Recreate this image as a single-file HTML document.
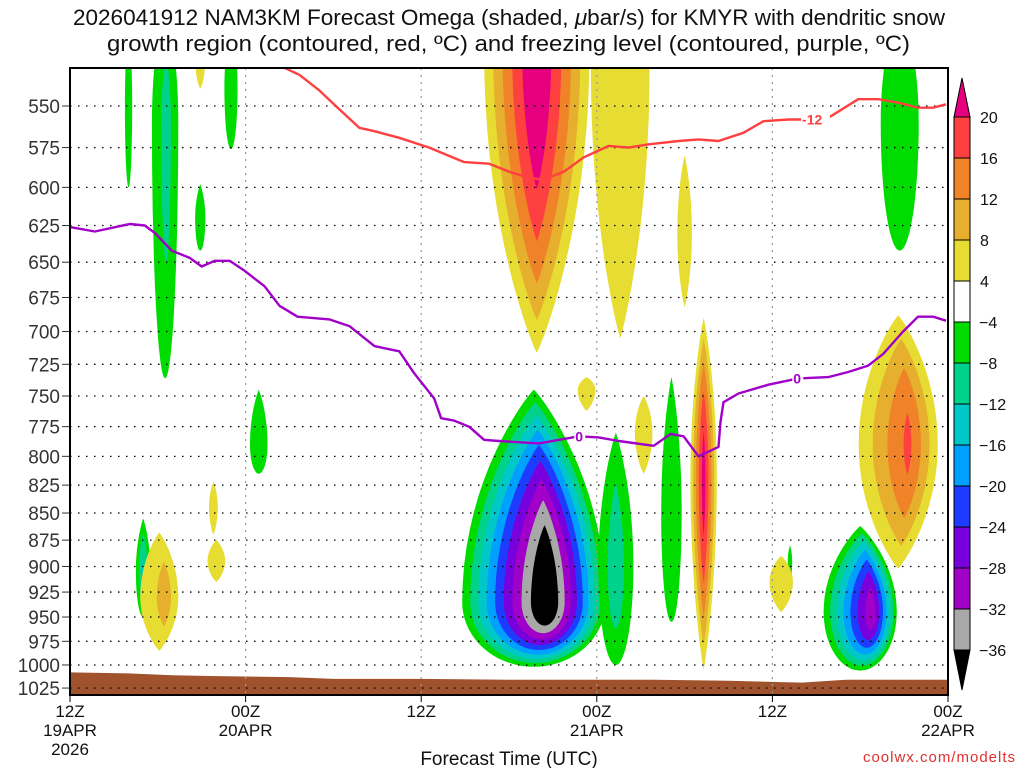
<!DOCTYPE html>
<html><head><meta charset="utf-8"><style>
body{margin:0;background:#fff;}
svg{display:block;font-family:"Liberation Sans",sans-serif;}
</style></head><body>
<svg id="chart" width="1024" height="768" viewBox="0 0 1024 768" xmlns="http://www.w3.org/2000/svg">
<text x="73" y="25" font-size="22" textLength="872" lengthAdjust="spacingAndGlyphs" fill="#111">2026041912 NAM3KM Forecast Omega (shaded, <tspan font-style="italic">μ</tspan>bar/s) for KMYR with dendritic snow</text>
<text x="107" y="51" font-size="22" textLength="803" lengthAdjust="spacingAndGlyphs" fill="#111">growth region (contoured, red, ºC) and freezing level (contoured, purple, ºC)</text>
<defs><clipPath id="pc"><rect x="70" y="68" width="878" height="627"/></clipPath></defs>
<g id="shade" clip-path="url(#pc)"></g>
<g id="grid"></g>
<g id="lines" clip-path="url(#pc)"></g>
<g id="axes"></g>
<g id="cbar"></g>
<text x="509" y="765" font-size="19" text-anchor="middle" fill="#111">Forecast Time (UTC)</text>
<text x="1016" y="762" font-size="15" text-anchor="end" fill="#e03030" letter-spacing="1">coolwx.com/modelts</text>
</svg>
<script>
const pTicks=[550,575,600,625,650,675,700,725,750,775,800,825,850,875,900,925,950,975,1000,1025];
const xTickHours=[0,12,24,36,48,60];
const xTickLabels=[["12Z","19APR","2026"],["00Z","20APR"],["12Z"],["00Z","21APR"],["12Z"],["00Z","22APR"]];
const cbLevels=[20,16,12,8,4,-4,-8,-12,-16,-20,-24,-28,-32,-36];
const posColors=["#e6dc32","#e6af2d","#f08228","#ff4040","#e6007f"];
const negColors=["#00dc00","#00d28c","#00c8c8","#00a0ff","#1e3cff","#7800dc","#a000c8","#a8a8a8","#000000"];
// blobs: hour, pTop, pBot, halfWidth(h), coreHour, coreP, peak
const blobHour=[31.7,54.0,37.3,41.1,5.0,12.9,6.5,4.0,8.9,11.0,56.7,49.2, 31.9,37.6,42.0,43.3,39.2,56.6,48.6,6.1,10.0,9.8,35.3,8.9];
const blobTop=[745,862,780,735,855,745,490,500,598,500,490,880, 490,490,580,690,750,688,890,868,875,822,735,520];
const blobBot=[1002,1006,1000,955,950,815,736,600,642,576,642,915, 716,705,682,1005,815,902,945,985,915,870,762,540];
const blobHalfW=[4.9,2.5,1.2,0.7,0.5,0.6,0.9,0.25,0.35,0.45,1.3,0.15, 3.6,2.0,0.5,0.9,0.6,2.7,0.8,1.3,0.6,0.3,0.6,0.3];
const blobCoreH=[32.6,54.8,37.3,41.1,5.0,12.9,6.6,4.0,8.9,11.0,56.7,49.2, 31.9,37.5,42.0,43.3,39.2,57.3,48.6,6.6,10.0,9.8,35.3,8.9];
const blobCoreP=[935,945,900,850,905,790,560,550,620,540,560,895, 520,530,630,820,780,790,915,930,895,845,745,528];
const blobPeak=[-42,-31,-11,-7,-13,-7,-10,-6,-6,-6,-6,-6, 25,7,7,22,6,17,6,10,6,6,6,5];
// -12 contour
const redH=[14.66,15.68,17.05,18.41,19.77,20.8,22.5,24.55,26.93,28.64,30.0,31.36,32.39,33.75,35.11,36.82,38.18,39.55,41.59,42.95,44.32,46.02,47.39,49.09,50.45,51.82,53.86,55.23,56.59,57.95,58.98,59.86];
const redP=[528,532,541,552,563,565,569,575,584,585,590,594,595,590,581,574,575,573,571,570,571,566,559,558,558,557,546,546,548,551,551,549];
// 0C contour
const purH=[0,1.7,4.09,5.11,5.8,6.95,8.18,9.0,9.89,10.91,11.93,13.3,14.32,15.55,17.73,19.09,20.8,22.5,23.52,24.89,25.36,26.25,27.27,28.3,29.32,32.05,34.77,36.14,37.5,39.89,41.05,41.93,42.95,44.32,44.45,44.66,45.68,47.73,49.77,51.82,53.18,54.55,55.57,56.93,57.95,58.98,59.86];
const purP=[626,629,624,625,630,642,647,653,649,649,656,667,681,689,691,696,711,715,732,752,768,770,775,786,787,789,783,784,787,791,781,783,800,792,771,755,748,741,736,735,731,726,717,700,689,689,692];
const sfcH=[0,4,7,10,15,18,24,30,40,45,50,53,60];
const sfcP=[1008,1009,1011,1012,1013,1015,1015,1016,1016,1017,1019,1016,1016];

const NS="http://www.w3.org/2000/svg";
const X=h=>70+h*878/60;
const Y=p=>106+935*Math.log(p/550);
function mk(tag,attrs,parent){const e=document.createElementNS(NS,tag);for(const k in attrs)e.setAttribute(k,attrs[k]);parent.appendChild(e);return e;}
const shade=document.getElementById('shade'),grid=document.getElementById('grid'),lines=document.getElementById('lines'),axes=document.getElementById('axes'),cbar=document.getElementById('cbar');

function blobPath(i,fx,fy,neg){
  const cx=X(blobHour[i]),hw=blobHalfW[i]*878/60,yT=Y(blobTop[i]),yB=Y(blobBot[i]);
  const kx=X(blobCoreH[i]),ky=Y(blobCoreP[i]);
  const yc=Math.min(Math.max(ky,yT+1),yB-1);
  const pts=[];
  for(let a=0;a<360;a+=5){
    const r=a*Math.PI/180,s=Math.sin(r),c=Math.cos(r);
    const ry=s<0?(yc-yT):(yB-yc);
    const ex=(s<0||!neg)?1.8:1.0;
    const w=hw*Math.pow(Math.abs(c),ex)*Math.sign(c);
    let px=cx+w, py=yc+ry*s;
    px=kx+(px-kx)*fx; py=ky+(py-ky)*fy;
    pts.push(px.toFixed(1)+","+py.toFixed(1));
  }
  return pts.join(" ");
}
for(let i=0;i<blobHour.length;i++){
  const pk=blobPeak[i],neg=pk<0,lv=neg?[4,8,12,16,20,24,28,32,36]:[4,8,12,16,20];
  const cols=neg?negColors:posColors;
  for(let k=0;k<lv.length;k++){
    if(lv[k]>=Math.abs(pk))break;
    const base=1-(lv[k]-4)/(Math.abs(pk)-4);
    const e=mk('polygon',{points:blobPath(i,Math.pow(base,0.9),Math.pow(base,0.55),neg),fill:cols[k]},shade);
    
    
  }
}
// terrain
let tp="M70,700 ";
sfcH.forEach((h,i)=>{tp+="L"+X(h).toFixed(1)+","+Y(sfcP[i]).toFixed(1)+" ";});
tp+="L948,700 Z";
const terr=mk('path',{d:tp,fill:'#a0522d'},shade);



// grid
pTicks.forEach(p=>{
  const g=mk('line',{x1:70,x2:948,y1:Y(p),y2:Y(p),stroke:'#000','stroke-dasharray':'1.5,6.5','stroke-width':1.3},grid);
  
  
  const t=mk('text',{x:60,y:Y(p)+7,'font-size':19,'text-anchor':'end',fill:'#333'},axes);
  t.textContent=p;
  
  
  mk('line',{x1:62,x2:70,y1:Y(p),y2:Y(p),stroke:'#333','stroke-width':1},axes);
});
xTickHours.forEach((h,i)=>{
  if(h>0&&h<60){const g=mk('line',{x1:X(h),x2:X(h),y1:68,y2:695,stroke:'#999','stroke-dasharray':'2,5','stroke-width':1.2},grid);
  
  }
  mk('line',{x1:X(h),x2:X(h),y1:695,y2:702,stroke:'#000'},axes);
  xTickLabels[i].forEach((s,j)=>{
    const t=mk('text',{x:X(h),y:717+j*19,'font-size':17,'text-anchor':'middle',fill:'#111'},axes);
    t.textContent=s;
    
    
  });
});
// lines
function poly(H,P,color,name){
  const e=mk('polyline',{points:H.map((h,i)=>X(h).toFixed(1)+","+Y(P[i]).toFixed(1)).join(" "),fill:'none',stroke:color,'stroke-width':2.4,'stroke-linejoin':'round'},lines);
  
  
}
poly(redH,redP,'#ff4040','dgz-minus12c-contour');
poly(purH,purP,'#a000c8','freezing-level-contour');
function lab(h,p,s,c,name){
  mk('rect',{x:X(h)-5,y:Y(p)-7,width:s.length*9+2,height:14,fill:'#fff'},lines);
  const t=mk('text',{x:X(h)-4,y:Y(p)+5,'font-size':14,'font-weight':'bold',fill:c},lines);
  t.textContent=s;
  
  
}
lab(50.3,558,"-12","#ff4040",'contour-label-minus12');
lab(34.8,783,"0","#a000c8",'contour-label-0');
lab(49.7,736,"0","#a000c8",'contour-label-0');
// frame
mk('rect',{x:70,y:68,width:878,height:627,fill:'none',stroke:'#000','stroke-width':2},axes);
// colorbar
const cbCols=["#ff4040","#f08228","#e6af2d","#e6dc32","#ffffff","#00dc00","#00d28c","#00c8c8","#00a0ff","#1e3cff","#7800dc","#a000c8","#a8a8a8"];
mk('polygon',{points:"954,117 970,117 962,78",fill:'#e6007f',stroke:'#000'},cbar);
mk('polygon',{points:"954,650 970,650 962,690",fill:'#000',stroke:'#000'},cbar);
for(let k=0;k<cbCols.length;k++){
  const y1=117+k*41;
  const r=mk('rect',{x:954,y:y1,width:16,height:41,fill:cbCols[k],stroke:'#000','stroke-width':1},cbar);
  
  
}
cbLevels.forEach((l,k)=>{
  const t=mk('text',{x:l<0?979:980,y:117+k*41+6,'font-size':16,fill:'#111'},cbar);
  t.textContent=l<0?"\u2212"+(-l):String(l);
  
  
});
</script>
</body></html>
